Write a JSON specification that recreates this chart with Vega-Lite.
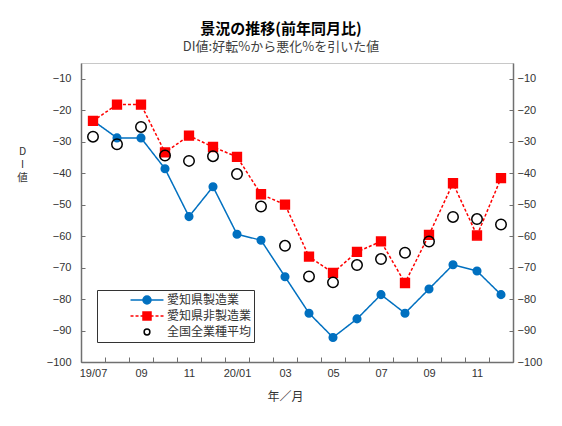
{
  "$schema": "https://vega.github.io/schema/vega-lite/v6.json",
  "width": 432,
  "height": 299,
  "autosize": {"type": "none"},
  "padding": {"left": 81, "top": 63, "right": 49, "bottom": 64},
  "background": "white",
  "title": {
    "text": "景況の推移(前年同月比)",
    "subtitle": "DI値:好転%から悪化%を引いた値",
    "anchor": "middle",
    "dx": -16,
    "offset": 9,
    "font": "Noto Sans CJK JP",
    "fontSize": 15,
    "fontWeight": "bold",
    "color": "#000000",
    "subtitleFont": "Noto Sans CJK JP",
    "subtitleFontSize": 13,
    "subtitleColor": "#404040",
    "subtitlePadding": 4
  },
  "config": {
    "view": {"stroke": "#C8C8C8", "strokeWidth": 1},
    "axis": {
      "labelFont": "Liberation Sans",
      "labelFontSize": 11,
      "labelColor": "#333333",
      "domainColor": "#707070",
      "domainWidth": 1.5,
      "tickColor": "#707070",
      "tickWidth": 1,
      "grid": false
    },
    "legend": {"labelFont": "Noto Sans CJK JP"}
  },
  "data": {
    "values": [
      {"ym": "19/07", "series": "愛知県製造業", "value": -23.3},
      {"ym": "19/08", "series": "愛知県製造業", "value": -28.8},
      {"ym": "19/09", "series": "愛知県製造業", "value": -28.8},
      {"ym": "19/10", "series": "愛知県製造業", "value": -38.6},
      {"ym": "19/11", "series": "愛知県製造業", "value": -53.8},
      {"ym": "19/12", "series": "愛知県製造業", "value": -44.3},
      {"ym": "20/01", "series": "愛知県製造業", "value": -59.4},
      {"ym": "20/02", "series": "愛知県製造業", "value": -61.3},
      {"ym": "20/03", "series": "愛知県製造業", "value": -72.9},
      {"ym": "20/04", "series": "愛知県製造業", "value": -84.5},
      {"ym": "20/05", "series": "愛知県製造業", "value": -92.2},
      {"ym": "20/06", "series": "愛知県製造業", "value": -86.3},
      {"ym": "20/07", "series": "愛知県製造業", "value": -78.6},
      {"ym": "20/08", "series": "愛知県製造業", "value": -84.5},
      {"ym": "20/09", "series": "愛知県製造業", "value": -76.8},
      {"ym": "20/10", "series": "愛知県製造業", "value": -69.1},
      {"ym": "20/11", "series": "愛知県製造業", "value": -71.1},
      {"ym": "20/12", "series": "愛知県製造業", "value": -78.6},
      {"ym": "19/07", "series": "愛知県非製造業", "value": -23.4},
      {"ym": "19/08", "series": "愛知県非製造業", "value": -18.2},
      {"ym": "19/09", "series": "愛知県非製造業", "value": -18.2},
      {"ym": "19/10", "series": "愛知県非製造業", "value": -33.4},
      {"ym": "19/11", "series": "愛知県非製造業", "value": -28.1},
      {"ym": "19/12", "series": "愛知県非製造業", "value": -31.7},
      {"ym": "20/01", "series": "愛知県非製造業", "value": -34.8},
      {"ym": "20/02", "series": "愛知県非製造業", "value": -46.7},
      {"ym": "20/03", "series": "愛知県非製造業", "value": -50.0},
      {"ym": "20/04", "series": "愛知県非製造業", "value": -66.5},
      {"ym": "20/05", "series": "愛知県非製造業", "value": -71.7},
      {"ym": "20/06", "series": "愛知県非製造業", "value": -65.0},
      {"ym": "20/07", "series": "愛知県非製造業", "value": -61.7},
      {"ym": "20/08", "series": "愛知県非製造業", "value": -74.9},
      {"ym": "20/09", "series": "愛知県非製造業", "value": -59.6},
      {"ym": "20/10", "series": "愛知県非製造業", "value": -43.2},
      {"ym": "20/11", "series": "愛知県非製造業", "value": -59.8},
      {"ym": "20/12", "series": "愛知県非製造業", "value": -41.6},
      {"ym": "19/07", "series": "全国全業種平均", "value": -28.4},
      {"ym": "19/08", "series": "全国全業種平均", "value": -30.8},
      {"ym": "19/09", "series": "全国全業種平均", "value": -25.3},
      {"ym": "19/10", "series": "全国全業種平均", "value": -34.4},
      {"ym": "19/11", "series": "全国全業種平均", "value": -36.1},
      {"ym": "19/12", "series": "全国全業種平均", "value": -34.6},
      {"ym": "20/01", "series": "全国全業種平均", "value": -40.3},
      {"ym": "20/02", "series": "全国全業種平均", "value": -50.6},
      {"ym": "20/03", "series": "全国全業種平均", "value": -63.1},
      {"ym": "20/04", "series": "全国全業種平均", "value": -72.8},
      {"ym": "20/05", "series": "全国全業種平均", "value": -74.7},
      {"ym": "20/06", "series": "全国全業種平均", "value": -69.2},
      {"ym": "20/07", "series": "全国全業種平均", "value": -67.3},
      {"ym": "20/08", "series": "全国全業種平均", "value": -65.3},
      {"ym": "20/09", "series": "全国全業種平均", "value": -61.7},
      {"ym": "20/10", "series": "全国全業種平均", "value": -53.9},
      {"ym": "20/11", "series": "全国全業種平均", "value": -54.6},
      {"ym": "20/12", "series": "全国全業種平均", "value": -56.3}
    ]
  },
  "encoding": {
    "x": {
      "field": "ym",
      "type": "ordinal",
      "sort": null,
      "scale": {"type": "band", "paddingInner": 0, "paddingOuter": 0},
      "axis": {
        "title": "年／月",
        "titleFont": "Noto Sans CJK JP",
        "titleFontSize": 12,
        "titleFontWeight": "normal",
        "titleColor": "#333333",
        "titleX": 204,
        "titleY": 29,
        "labelAngle": 0,
        "labelPadding": 10,
        "tickSize": -5,
        "tickBand": "extent",
        "labelExpr": "!isString(datum.value) ? '' : (toNumber(substring(datum.value,3,5)) % 2 == 0 ? '' : (datum.value == '19/07' || substring(datum.value,3,5) == '01' ? datum.value : substring(datum.value,3,5)))"
      }
    }
  },
  "layer": [
    {
      "transform": [{"filter": "datum.series != '全国全業種平均'"}],
      "mark": {"type": "line", "strokeWidth": 1.5},
      "encoding": {
        "y": {
          "field": "value",
          "type": "quantitative",
          "scale": {"domain": [-100, -5], "nice": false, "zero": false},
          "axis": {
            "orient": "left",
            "values": [-10, -20, -30, -40, -50, -60, -70, -80, -90, -100],
            "tickSize": -4,
            "labelPadding": 14,
            "title": ["D", "I", "値"],
            "titleAngle": 0,
            "titleFont": "Noto Sans CJK JP",
            "titleFontSize": 10.5,
            "titleFontWeight": "normal",
            "titleColor": "#333333",
            "titleAlign": "center",
            "titleBaseline": "top",
            "titleLineHeight": 13,
            "titleX": -59,
            "titleY": 83
          }
        },
        "detail": {"field": "series", "type": "nominal"},
        "stroke": {"condition": {"test": "datum.series == '愛知県製造業'", "value": "#0070C0"}, "value": "#FF0000"},
        "strokeDash": {"condition": {"test": "datum.series == '愛知県製造業'", "value": [1, 0]}, "value": [3, 2]}
      }
    },
    {
      "mark": {"type": "point", "strokeWidth": 1.5, "opacity": 1},
      "encoding": {
        "y": {
          "field": "value",
          "type": "quantitative",
          "scale": {"domain": [-100, -5], "nice": false, "zero": false},
          "axis": {
            "orient": "right",
            "values": [-10, -20, -30, -40, -50, -60, -70, -80, -90, -100],
            "tickSize": -4,
            "labelPadding": 8,
            "title": null
          }
        },
        "stroke": {
          "condition": [
            {"test": "datum.series == '愛知県製造業'", "value": "#0070C0"},
            {"test": "datum.series == '愛知県非製造業'", "value": "#FF0000"}
          ],
          "value": "#000000"
        },
        "fill": {
          "condition": [
            {"test": "datum.series == '愛知県製造業'", "value": "#0070C0"},
            {"test": "datum.series == '愛知県非製造業'", "value": "#FF0000"}
          ],
          "value": "transparent"
        },
        "size": {
          "condition": [
            {"test": "datum.series == '愛知県製造業'", "value": 58},
            {"test": "datum.series == '愛知県非製造業'", "value": 78}
          ],
          "value": 110
        },
        "shape": {"condition": {"test": "datum.series == '愛知県非製造業'", "value": "square"}, "value": "circle"}
      }
    },
    {
      "transform": [{"filter": "false"}],
      "mark": {"type": "point", "strokeWidth": 1.5, "opacity": 1, "filled": true},
      "encoding": {
        "shape": {
          "field": "series",
          "type": "nominal",
          "scale": {
            "domain": ["愛知県製造業", "愛知県非製造業", "全国全業種平均"],
            "range": [
              "M-2.06,0L2.06,0M0.5,0A0.5,0.5 0 1,1 -0.5,0A0.5,0.5 0 1,1 0.5,0Z",
              "M-2.06,0L-1.685,0M-1.435,0L-1.06,0M-0.81,0L-0.435,0M0.44,0L0.815,0M1.065,0L1.44,0M1.69,0L2.065,0M-0.5,-0.5L0.5,-0.5L0.5,0.5L-0.5,0.5Z",
              "M0.36,0A0.36,0.36 0 1,1 -0.36,0A0.36,0.36 0 1,1 0.36,0Z"
            ]
          },
          "legend": {
            "title": null,
            "orient": "none",
            "legendX": 16,
            "legendY": 227,
            "padding": 2,
            "strokeColor": "#333333",
            "fillColor": "white",
            "symbolSize": 256,
            "symbolStrokeWidth": 1.5,
            "clipHeight": 16,
            "rowPadding": 0,
            "symbolOffset": 39,
            "labelOffset": 11,
            "labelFont": "Noto Sans CJK JP",
            "labelFontSize": 12,
            "labelColor": "#333333",
            "labelExpr": "datum.label + '　　　'"
          }
        },
        "fill": {
          "field": "series",
          "type": "nominal",
          "scale": {"domain": ["愛知県製造業", "愛知県非製造業", "全国全業種平均"], "range": ["#0070C0", "#FF0000", "transparent"]}
        },
        "stroke": {
          "field": "series",
          "type": "nominal",
          "scale": {"domain": ["愛知県製造業", "愛知県非製造業", "全国全業種平均"], "range": ["#0070C0", "#FF0000", "#000000"]}
        }
      }
    }
  ],
  "resolve": {"axis": {"y": "independent"}}
}
